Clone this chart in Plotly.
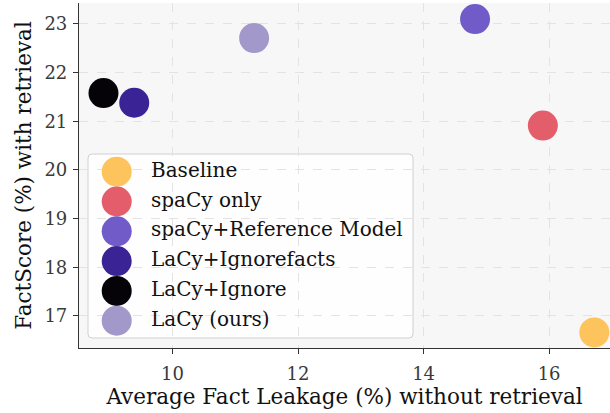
import plotly.graph_objects as go

# methods and their scores
methods = ["Baseline", "spaCy only", "spaCy+Reference Model",
           "LaCy+Ignorefacts", "LaCy+Ignore", "LaCy (ours)"]
fact_leakage = [16.72, 15.90, 14.82, 9.39, 8.90, 11.30]
factscore = [16.66, 20.91, 23.10, 21.38, 21.58, 22.71]
colors = ["#fdc35c", "#e35d6a", "#705bc8", "#3a2395", "#050308", "#a298ca"]

FONT = "'DejaVu Serif', serif"

fig = go.Figure()

for name, x, y, c in zip(methods, fact_leakage, factscore, colors):
    fig.add_trace(go.Scatter(x=[x], y=[y], mode="markers", name=name,
                             marker=dict(size=30, color=c, line_width=0),
                             showlegend=False, cliponaxis=False))

# legend drawn on a pixel-scaled overlay axis so the markers can be large
leg_y = [171.7 + i * 29.8 for i in range(len(methods))]
fig.add_trace(go.Scatter(x=[116.7] * len(methods), y=leg_y, mode="markers",
                         marker=dict(size=30, color=colors, line_width=0),
                         xaxis="x2", yaxis="y2", showlegend=False, hoverinfo="skip"))
fig.add_trace(go.Scatter(x=[151] * len(methods), y=leg_y, mode="text", text=methods,
                         textposition="middle right",
                         textfont=dict(family=FONT, size=20, color="#111111"),
                         xaxis="x2", yaxis="y2", showlegend=False, hoverinfo="skip"))

# rounded legend frame
x0, x1, y0, y1, r = 88, 413, 154, 338, 4
frame = (f"M {x0+r},{y0} L {x1-r},{y0} Q {x1},{y0} {x1},{y0+r} "
         f"L {x1},{y1-r} Q {x1},{y1} {x1-r},{y1} L {x0+r},{y1} "
         f"Q {x0},{y1} {x0},{y1-r} L {x0},{y0+r} Q {x0},{y0} {x0+r},{y0} Z")
fig.add_shape(type="path", path=frame, xref="x2", yref="y2",
              fillcolor="rgba(255,255,255,0.85)", line=dict(color="#d0d0d0", width=1),
              layer="below")

axis_common = dict(showline=True, linecolor="#333333", linewidth=1.2, mirror=False,
                   ticks="outside", ticklen=5, tickcolor="#333333", automargin=False,
                   showgrid=True, gridcolor="#e3e3e3", griddash="dash", gridwidth=1,
                   zeroline=False, tickfont=dict(family=FONT, size=18, color="#3a3a3a"))

fig.update_layout(
    width=610, height=413,
    margin=dict(l=79, r=0, t=3, b=65),
    plot_bgcolor="#f7f7f7", paper_bgcolor="white",
    font=dict(family=FONT, size=18, color="#111111"),
    xaxis=dict(range=[8.51, 16.97], tickvals=[10, 12, 14, 16], ticklabelstandoff=4,
               title=dict(text="Average Fact Leakage (%) without retrieval",
                          font=dict(family=FONT, size=21.5), standoff=3),
               **axis_common),
    yaxis=dict(range=[16.34, 23.43], tickvals=[17, 18, 19, 20, 21, 22, 23],
               ticklabelstandoff=2,
               title=dict(text="FactScore (%) with retrieval",
                          font=dict(family=FONT, size=21.5), standoff=6),
               **axis_common),
    xaxis2=dict(overlaying="x", range=[79, 610], visible=False),
    yaxis2=dict(overlaying="y", range=[348, 3], visible=False),
)

fig.write_html("out.html", config={"displayModeBar": False},
               post_script="document.body.style.margin='0';")
